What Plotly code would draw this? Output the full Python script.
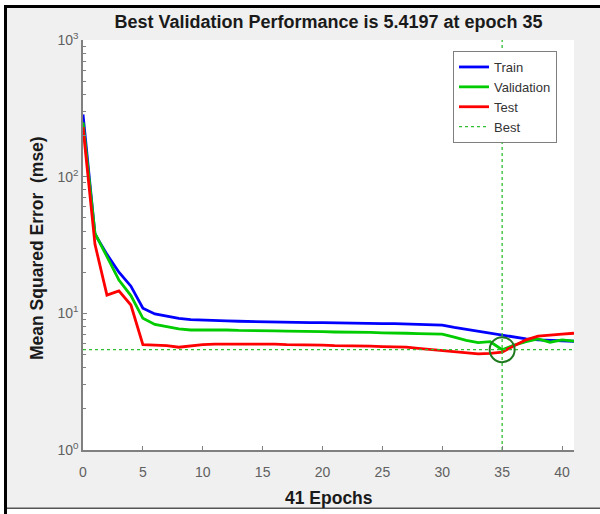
import plotly.graph_objects as go

# ---------------- data ----------------
epochs = list(range(42))
train = [285, 38, 27, 20, 15.8, 10.9, 9.9, 9.5, 9.2, 9.0,
         8.9, 8.85, 8.8, 8.75, 8.7, 8.7, 8.65, 8.6, 8.6, 8.55,
         8.55, 8.5, 8.5, 8.45, 8.45, 8.4, 8.4, 8.35, 8.3, 8.25,
         8.2, 7.9, 7.65, 7.4, 7.2, 7.0, 6.7, 6.5, 6.4, 6.35,
         6.3, 6.25]
validation = [250, 38.5, 26, 17.5, 13.5, 9.2, 8.3, 7.95, 7.7, 7.55,
              7.55, 7.6, 7.55, 7.5, 7.5, 7.45, 7.45, 7.4, 7.4, 7.35,
              7.35, 7.3, 7.3, 7.25, 7.25, 7.2, 7.2, 7.15, 7.1, 7.1,
              7.05, 6.7, 6.35, 6.1, 6.2, 5.4197, 5.85, 6.2, 6.5, 6.15,
              6.4, 6.25]
test = [230, 32, 13.6, 14.6, 11.5, 5.9, 5.85, 5.8, 5.65, 5.8,
        5.9, 5.95, 5.95, 5.95, 6.0, 5.95, 5.95, 5.9, 5.9, 5.85,
        5.85, 5.8, 5.8, 5.75, 5.75, 5.7, 5.7, 5.65, 5.55, 5.45,
        5.35, 5.25, 5.15, 5.05, 5.1, 5.2, 5.8, 6.4, 6.8, 6.95,
        7.05, 7.15]
best_epoch = 35
best_perf = 5.4197
n_epochs = 41

x_ticks = [0, 5, 10, 15, 20, 25, 30, 35, 40]
y_ticks = [1, 10, 100, 1000]
y_tick_text = ["10<sup>0</sup>", "10<sup>1</sup>", "10<sup>2</sup>", "10<sup>3</sup>"]
y_minor = [m * d for d in (1, 10, 100) for m in range(2, 10)]

title_text = "Best Validation Performance is 5.4197 at epoch 35"
x_title = "41 Epochs"
y_title = "Mean Squared Error\u00a0 (mse)"

FONT = "Liberation Sans, Arial, Helvetica, sans-serif"

# plot-area geometry in pixels
L, R, T, B = 83, 574, 40, 450
W, H = 600, 514
px_w, px_h = float(R - L), float(B - T)
def px_x(p):
    return (p - L) / px_w
def px_y(p):
    return (B - p) / px_h

BEST_C = "#2fbf2f"

fig = go.Figure()
fig.add_trace(go.Scatter(x=epochs, y=train, mode="lines", name="Train",
                         line=dict(color="#0000ff", width=2.8)))
fig.add_trace(go.Scatter(x=epochs, y=validation, mode="lines", name="Validation",
                         line=dict(color="#00cc00", width=2.8)))
fig.add_trace(go.Scatter(x=epochs, y=test, mode="lines", name="Test",
                         line=dict(color="#ff0000", width=2.8)))
fig.add_trace(go.Scatter(x=[best_epoch, best_epoch], y=[y_ticks[0], y_ticks[-1]],
                         mode="lines", name="Best",
                         line=dict(color=BEST_C, width=1.3, dash="dot")))
fig.add_trace(go.Scatter(x=[0, n_epochs], y=[best_perf, best_perf],
                         mode="lines", showlegend=False,
                         line=dict(color=BEST_C, width=1.3, dash="dot")))
fig.add_trace(go.Scatter(x=[best_epoch], y=[best_perf], mode="markers",
                         showlegend=False,
                         marker=dict(symbol="circle-open", size=25,
                                     color="#1f7a1f", line=dict(width=2, color="#1f7a1f"))))

fig.update_layout(
    width=W, height=H,
    margin=dict(l=L, r=W - R, t=T, b=H - B, autoexpand=False),
    paper_bgcolor="#f0f0f0",
    plot_bgcolor="#ffffff",
    font=dict(family=FONT, size=14, color="#606060"),
    title=dict(text="<b>" + title_text + "</b>",
               x=(L + R) / 2 / W, xanchor="center",
               y=1 - 22 / H, yanchor="middle",
               font=dict(family=FONT, size=18, color="#1a1a1a")),
    showlegend=True,
    legend=dict(x=px_x(453), y=px_y(51), xanchor="left", yanchor="top",
                bgcolor="#ffffff", bordercolor="#7f7f7f", borderwidth=1,
                font=dict(family=FONT, size=13, color="#333333"),
                itemwidth=30, tracegroupgap=0),
    xaxis=dict(range=[0, n_epochs], tickmode="array", tickvals=x_ticks,
               ticks="inside", ticklen=4, tickcolor="#808080", tickwidth=1,
               showline=True, linecolor="#808080", linewidth=1.5,
               showgrid=False, zeroline=False, automargin=False,
               tickfont=dict(size=14, color="#606060"),
               ticklabelstandoff=8),
    yaxis=dict(type="log", range=[0, 3], tickmode="array", tickvals=y_ticks,
               ticktext=y_tick_text,
               ticks="inside", ticklen=4, tickcolor="#808080", tickwidth=1,
               minor=dict(tickmode="array", tickvals=y_minor, ticks="inside",
                          ticklen=3, tickcolor="#808080", showgrid=False),
               showline=True, linecolor="#808080", linewidth=1.5,
               showgrid=False, zeroline=False, automargin=False,
               tickfont=dict(size=14, color="#606060")),
    annotations=[
        dict(text="<b>" + x_title + "</b>", xref="paper", yref="paper",
             x=px_x((L + R) / 2), y=px_y(498), xanchor="center", yanchor="middle",
             showarrow=False, font=dict(family=FONT, size=17.5, color="#1a1a1a")),
        dict(text="<b>" + y_title + "</b>", xref="paper", yref="paper",
             x=px_x(37), y=px_y(248), xanchor="center", yanchor="middle",
             textangle=-90, showarrow=False,
             font=dict(family=FONT, size=17.5, color="#1a1a1a")),
    ],
)

# screenshot frame (black top/left border, bottom edge)
shapes = [
    dict(type="rect", xref="paper", yref="paper", x0=px_x(0), x1=px_x(4),
         y0=px_y(0), y1=px_y(H), fillcolor="#ffffff", line=dict(width=0)),
    dict(type="rect", xref="paper", yref="paper", x0=px_x(0), x1=px_x(W),
         y0=px_y(509), y1=px_y(H), fillcolor="#ffffff", line=dict(width=0)),
    dict(type="rect", xref="paper", yref="paper", x0=px_x(4), x1=px_x(7),
         y0=px_y(5.5), y1=px_y(H), fillcolor="#000000", line=dict(width=0)),
    dict(type="rect", xref="paper", yref="paper", x0=px_x(7), x1=px_x(W),
         y0=px_y(507.5), y1=px_y(509), fillcolor="#555555", line=dict(width=0)),
]
fig.update_layout(shapes=shapes)

# top edge of the screenshot frame as a page overlay
frame_js = (
    "document.body.style.margin='0';document.body.style.padding='0';"
    "document.documentElement.style.overflow='hidden';"
    "var w=document.createElement('div');"
    "w.style.cssText='position:absolute;left:0;top:0;width:600px;height:5px;background:#fff;z-index:20;pointer-events:none';"
    "document.body.appendChild(w);"
    "var k=document.createElement('div');"
    "k.style.cssText='position:absolute;left:4px;top:5px;width:596px;height:3px;background:#000;z-index:21;pointer-events:none';"
    "document.body.appendChild(k);"
)

fig.write_html("out.html", config={"displayModeBar": False}, post_script=frame_js)
